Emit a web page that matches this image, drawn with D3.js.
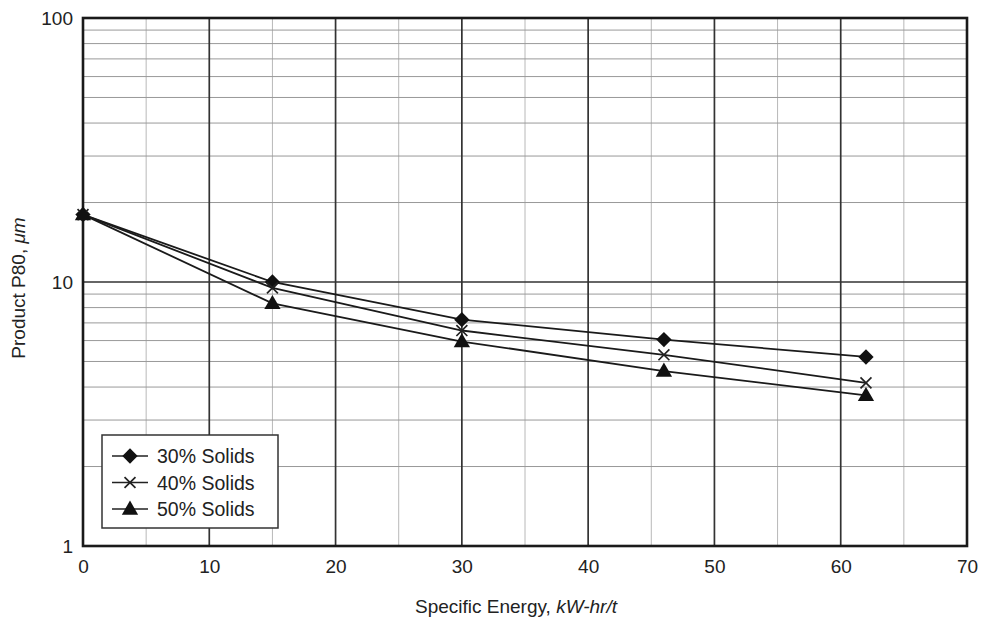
<!DOCTYPE html>
<html><head><meta charset="utf-8">
<script src="https://cdn.jsdelivr.net/npm/d3@7"></script>
<style>body{margin:0;background:#fff}svg{display:block}text{font-family:"Liberation Sans",Arial,sans-serif;fill:#222}</style>
</head><body><svg id="c" width="984" height="620"></svg>
<script>
const energy = [0, 15, 30, 46, 62];
const solids30 = [18, 10.0, 7.2, 6.05, 5.2];
const solids40 = [18, 9.5, 6.55, 5.3, 4.15];
const solids50 = [18, 8.3, 5.95, 4.6, 3.72];
const seriesNames = ["30% Solids", "40% Solids", "50% Solids"];
const xTicks = [0, 10, 20, 30, 40, 50, 60, 70];
const yTicks = [1, 10, 100];

const svg = d3.select("#c");
const L = 83, R = 967, T = 18, B = 546;
const x = d3.scaleLinear().domain([0, 70]).range([L, R]);
const y = d3.scaleLog().domain([1, 100]).range([B, T]);
const FONT = '"Liberation Sans",Arial,sans-serif';

const g = svg.append("g");
g.selectAll(".mv").data(d3.range(5, 70, 10)).join("line")
  .attr("x1", d => x(d)).attr("x2", d => x(d)).attr("y1", T).attr("y2", B)
  .attr("stroke", "#b8b8b8").attr("stroke-width", 1);
const minors = [];
[1, 10].forEach(dec => { for (let k = 2; k <= 9; k++) minors.push(dec * k); });
g.selectAll(".mh").data(minors).join("line")
  .attr("x1", L).attr("x2", R).attr("y1", d => y(d)).attr("y2", d => y(d))
  .attr("stroke", "#999").attr("stroke-width", 1);
g.selectAll(".Mv").data(xTicks.slice(1, -1)).join("line")
  .attr("x1", d => x(d)).attr("x2", d => x(d)).attr("y1", T).attr("y2", B)
  .attr("stroke", "#333").attr("stroke-width", 1.7);
g.selectAll(".Mh").data([10]).join("line")
  .attr("x1", L).attr("x2", R).attr("y1", d => y(d)).attr("y2", d => y(d))
  .attr("stroke", "#333").attr("stroke-width", 1.7);
svg.append("rect").attr("x", L).attr("y", T).attr("width", R - L).attr("height", B - T)
  .attr("fill", "none").attr("stroke", "#1a1a1a").attr("stroke-width", 2.6);

const xa = svg.append("g").attr("transform", `translate(0,${B})`)
  .call(d3.axisBottom(x).tickValues(xTicks).tickSize(0).tickPadding(14).tickFormat(d3.format("d")));
xa.select(".domain").remove();
xa.selectAll("text").attr("font-size", 19).style("font-family", FONT).attr("fill", "#222");
const ya = svg.append("g").attr("transform", `translate(${L},0)`)
  .call(d3.axisLeft(y).tickValues(yTicks).tickSize(0).tickPadding(10).tickFormat(d3.format("d")));
ya.select(".domain").remove();
ya.selectAll("text").attr("font-size", 19).style("font-family", FONT).attr("fill", "#222");

const xt = svg.append("text").attr("x", 516).attr("y", 613).attr("text-anchor", "middle").attr("font-size", 19);
xt.append("tspan").text("Specific Energy, ");
xt.append("tspan").attr("font-style", "italic").text("kW-hr/t");
const yt = svg.append("text").attr("transform", `translate(25,288) rotate(-90)`).attr("text-anchor", "middle").attr("font-size", 19);
yt.append("tspan").text("Product P80, ");
yt.append("tspan").attr("font-style", "italic").text("μm");

const data = [solids30, solids40, solids50];
const line = d3.line().x(d => x(d[0])).y(d => y(d[1]));
function drawMarker(sel, i, cx, cy) {
  if (i === 0) {
    sel.append("path").attr("d", d3.symbol(d3.symbolDiamond2, 150)()).attr("transform", `translate(${cx},${cy})`).attr("fill", "#111");
  } else if (i === 1) {
    sel.append("path").attr("d", d3.symbol(d3.symbolX, 80)()).attr("transform", `translate(${cx},${cy})`).attr("fill", "none").attr("stroke", "#222").attr("stroke-width", 1.7);
  } else {
    sel.append("path").attr("d", d3.symbol(d3.symbolTriangle, 115)()).attr("transform", `translate(${cx},${cy + 1})`).attr("fill", "#111");
  }
}
data.forEach(vals => {
  const pts = energy.map((e, j) => [e, vals[j]]);
  svg.append("path").attr("d", line(pts)).attr("fill", "none").attr("stroke", "#1a1a1a").attr("stroke-width", 1.8);
});
data.forEach((vals, i) => {
  const gm = svg.append("g");
  energy.forEach((e, j) => drawMarker(gm, i, x(e), y(vals[j])));
});

const lg = svg.append("g");
lg.append("rect").attr("x", 102).attr("y", 435).attr("width", 176).attr("height", 93)
  .attr("fill", "#fff").attr("stroke", "#333").attr("stroke-width", 1.5);
seriesNames.forEach((n, i) => {
  const cy = 456 + i * 26.5;
  lg.append("line").attr("x1", 112).attr("x2", 148).attr("y1", cy).attr("y2", cy).attr("stroke", "#222").attr("stroke-width", 1.5);
  drawMarker(lg, i, 130, cy);
  lg.append("text").attr("x", 157).attr("y", cy + 7).attr("font-size", 19.5).text(n);
});
</script></body></html>
